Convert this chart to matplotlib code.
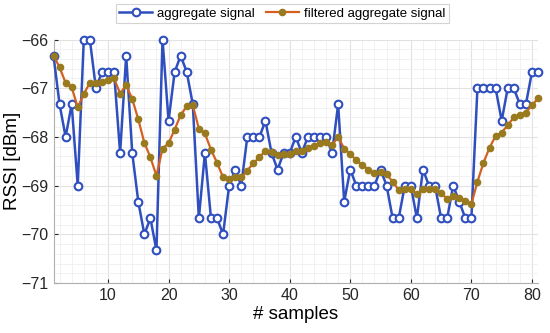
import matplotlib
matplotlib.use("Agg")
import matplotlib.pyplot as plt
from matplotlib.ticker import MultipleLocator

plt.rcParams['font.family'] = ['Liberation Sans', 'DejaVu Sans']

samples = list(range(1, 82))

# aggregate RSSI (dBm)
aggregate = [
    -66.33, -67.33, -68.0, -67.33, -69.0, -66.0, -66.0, -67.0, -66.67, -66.67,
    -66.67, -68.33, -66.33, -68.33, -69.33, -70.0, -69.67, -70.33, -66.0, -67.67,
    -66.67, -66.33, -66.67, -67.33, -69.67, -68.33, -69.67, -69.67, -70.0, -69.0,
    -68.67, -69.0, -68.0, -68.0, -68.0, -67.67, -68.33, -68.67, -68.33, -68.33,
    -68.0, -68.33, -68.0, -68.0, -68.0, -68.0, -68.33, -67.33, -69.33, -68.67,
    -69.0, -69.0, -69.0, -69.0, -68.67, -69.0, -69.67, -69.67, -69.0, -69.0,
    -69.67, -68.67, -69.0, -69.0, -69.67, -69.67, -69.0, -69.33, -69.67, -69.67,
    -67.0, -67.0, -67.0, -67.0, -67.67, -67.0, -67.0, -67.33, -67.33, -66.67,
    -66.67,
]

filtered = [
    -66.33, -66.57, -66.89, -66.98, -67.39, -67.12, -66.89, -66.90, -66.87, -66.83,
    -66.80, -67.11, -66.94, -67.22, -67.64, -68.12, -68.42, -68.80, -68.24, -68.13,
    -67.85, -67.55, -67.37, -67.35, -67.83, -67.93, -68.26, -68.53, -68.83, -68.87,
    -68.82, -68.83, -68.69, -68.54, -68.42, -68.28, -68.30, -68.37, -68.35, -68.35,
    -68.28, -68.28, -68.22, -68.18, -68.13, -68.11, -68.17, -68.00, -68.24, -68.35,
    -68.48, -68.58, -68.67, -68.75, -68.72, -68.77, -68.92, -69.09, -69.06, -69.06,
    -69.18, -69.07, -69.06, -69.07, -69.16, -69.27, -69.22, -69.25, -69.31, -69.38,
    -68.92, -68.53, -68.22, -67.98, -67.91, -67.76, -67.60, -67.55, -67.50, -67.35,
    -67.21,
]

fig = plt.figure(figsize=(5.5, 3.33), dpi=100)
ax = fig.add_axes([53.5 / 550, 50 / 333, 484.5 / 550, 243.5 / 333])

ax.plot(samples, aggregate, color='#2f4fbf', lw=1.8, marker='o', ms=5.5,
        mfc='white', mec='#2f4fbf', mew=1.5, label='aggregate signal',
        clip_on=False, zorder=3)
ax.plot(samples, filtered, color='#d4601f', lw=1.6, marker='o', ms=4.5,
        mfc='#9a7a1e', mec='#9a7a1e', label='filtered aggregate signal',
        clip_on=False, zorder=4)

ax.set_xlim(1, 81)
ax.set_ylim(-71, -66)
ax.xaxis.set_major_locator(MultipleLocator(10))
ax.xaxis.set_minor_locator(MultipleLocator(2))
ax.yaxis.set_major_locator(MultipleLocator(1))
ax.yaxis.set_minor_locator(MultipleLocator(0.2))
ax.grid(which='major', color='#e2e2e2', lw=0.8)
ax.grid(which='minor', color='#f0f0f0', lw=0.6)
ax.set_axisbelow(True)
ax.tick_params(which='both', direction='in', labelsize=11.5, colors='#262626',
               length=3)
ax.tick_params(which='minor', length=0)
for s in ax.spines.values():
    s.set_color('#b0b0b0')
    s.set_linewidth(0.8)
ax.spines['top'].set_visible(False)
ax.spines['right'].set_visible(False)

ax.set_xlabel('# samples', fontsize=13.5, labelpad=2)
ax.set_ylabel('RSSI [dBm]', fontsize=13.5)
ax.yaxis.set_label_coords(-0.068, 0.5)

leg = fig.legend(loc='upper center', bbox_to_anchor=(0.513, 0.995), ncol=2,
                 fontsize=9.5, frameon=True, fancybox=False, handlelength=2.5,
                 columnspacing=0.8, handletextpad=0.4, borderpad=0.25,
                 borderaxespad=0.2)
leg.get_frame().set_edgecolor('#c8c8c8')
leg.get_frame().set_linewidth(0.8)

fig.savefig('out.png', dpi=100)
